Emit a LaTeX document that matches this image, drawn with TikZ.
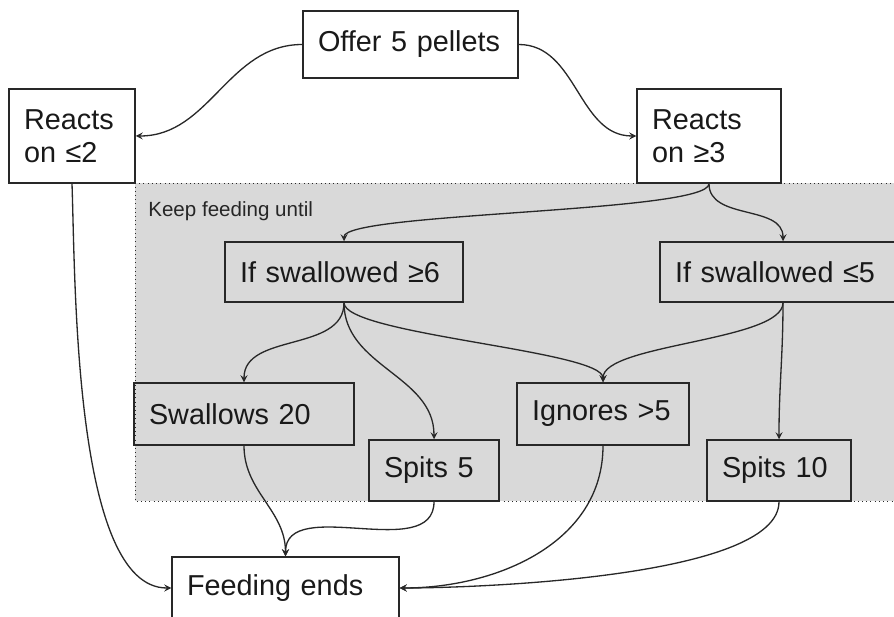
\documentclass[tikz,border=0pt]{standalone}
\usepackage{fontspec}
\setmainfont{Liberation Sans}
\usetikzlibrary{arrows}
\definecolor{regionGray}{RGB}{217,217,217}
\definecolor{lineGray}{RGB}{40,40,40}
\tikzstyle{arrow} = [line width=0.75pt,->,>=stealth,draw=lineGray]
\tikzstyle{rec} = [rectangle, draw=lineGray, line width=0.85pt, inner xsep=0.3cm, align=left, text=black!90, font=\fontsize{16.4}{19}\selectfont]

\begin{document}
\begin{tikzpicture}[x=0.02cm, y=-0.02cm]
		\useasboundingbox (0,0) rectangle (894,617);
		% grey area
		\fill [regionGray] (135,183) rectangle (920,501);
		\draw [lineGray, dotted] (920,183) -- (135,183) -- (135,501) -- (920,501);
		\node (keep) [anchor=base west, inner sep=0pt, text=black!85, font=\fontsize{11.7}{14}\selectfont] at (148,217) {Keep feeding until};
		% boxes
		\node (offer) [rec, text width=3.7cm, minimum height=1.34cm] at (410.5,44.5) {Offer 5 pellets};
		\node (reactsLow) [rec, text width=1.92cm, minimum height=1.88cm] at (72,136) {Reacts\\on ≤2};
		\node (reactsHigh) [rec, text width=2.28cm, minimum height=1.88cm] at (709,136) {Reacts\\on ≥3};
		\node (ifHigh) [rec, text width=4.16cm, minimum height=1.2cm] at (344,272) {If swallowed ≥6};
		\node (ifLow) [rec, text width=4.32cm, minimum height=1.2cm] at (783,272) {If swallowed ≤5};
		\node (swallows) [rec, text width=3.8cm, minimum height=1.24cm] at (244,414) {Swallows 20};
		\node (spitsFive) [rec, text width=2.0cm, minimum height=1.22cm] at (434,470.5) {Spits 5};
		\node (ignores) [rec, text width=2.84cm, minimum height=1.24cm] at (603,414) {Ignores >5};
		\node (spitsTen) [rec, text width=2.28cm, minimum height=1.22cm] at (779,470.5) {Spits 10};
		\node (ends) [rec, text width=3.94cm, minimum height=1.24cm] at (285.5,588) {Feeding ends};
		% connectors
		\draw [arrow] (offer.west) to[out=180, in=0] (reactsLow.east);
		\draw [arrow] (offer.east) to[out=0, in=180] (reactsHigh.west);
		\draw [arrow] (reactsHigh.south) to[out=-90, in=90, looseness=0.2] (ifHigh.north);
		\draw [arrow] (reactsHigh.south) to[out=-90, in=90] (ifLow.north);
		\draw [arrow] (ifHigh.south) to[out=-90, in=90] (swallows.north);
		\draw [arrow] (ifHigh.south) to[out=-90, in=90] (spitsFive.north);
		\draw [arrow] (ifHigh.south) to[out=-90, in=90, looseness=0.3] (ignores.north);
		\draw [arrow] (ifLow.south) to[out=-90, in=90, looseness=0.5] (ignores.north);
		\draw [arrow] (ifLow.south) to[out=-90, in=90] (spitsTen.north);
		\draw [arrow] (reactsLow.south) to[out=-88, in=180, looseness=0.6] (ends.west);
		\draw [arrow] (swallows.south) to[out=-90, in=90] (ends.north);
		\draw [arrow] (spitsFive.south) to[out=-90, in=90] (ends.north);
		\draw [arrow] (ignores.south) to[out=-90, in=0] (ends.east);
		\draw [arrow] (spitsTen.south) to[out=-90, in=0, looseness=0.5] (ends.east);
	\end{tikzpicture}
\end{document}
